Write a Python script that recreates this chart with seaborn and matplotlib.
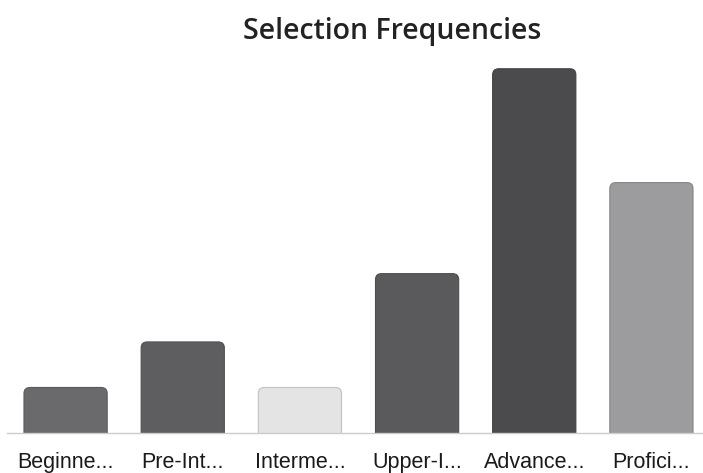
import seaborn as sns
import matplotlib.pyplot as plt
import matplotlib.colors as mcolors
import pandas as pd
from matplotlib.patches import FancyBboxPatch

# data
levels = ['Beginne...', 'Pre-Int...', 'Interme...', 'Upper-I...', 'Advance...', 'Profici...']
counts = [2, 4, 2, 7, 16, 11]
bar_colors = ['#6a6a6c', '#5e5e60', '#e4e4e4', '#5a5a5c', '#4b4b4d', '#9c9c9e']

df = pd.DataFrame({'level': levels, 'count': counts})

sns.set_style('white')
fig = plt.figure(figsize=(7.03, 4.73), dpi=100)
ax = fig.add_axes([7 / 703, 40 / 473, 703 / 703, 387 / 473])

sns.barplot(data=df, x='level', y='count', hue='level', palette=bar_colors,
            width=0.71, legend=False, ax=ax, saturation=1)

ax.set_ylim(0, 17)
ax.set_xlim(-0.5, 5.5)

# swap plain bars for rounded-top ones
ymax = 17
px_x = 703 / 6.0     # pixels per category
px_y = 387 / ymax    # pixels per unit
for p, c in zip(list(ax.patches), bar_colors):
    x, w, h = p.get_x(), p.get_width(), p.get_height()
    p.set_visible(False)
    r = 6 / px_x
    rgb = mcolors.to_rgb(c)
    edge = tuple(v * 0.85 for v in rgb)
    box = FancyBboxPatch((x, -1), w, h + 1,
                         boxstyle='round,pad=0,rounding_size=%f' % r,
                         mutation_aspect=px_x / px_y,
                         facecolor=c, edgecolor=edge, linewidth=0.8,
                         clip_on=True)
    ax.add_patch(box)

sns.despine(ax=ax, left=True)
ax.spines['bottom'].set_color('#cccccc')
ax.spines['bottom'].set_linewidth(1.0)
ax.set_yticks([])
ax.set_xlabel('')
ax.set_ylabel('')
ax.tick_params(axis='x', length=0, pad=14, labelsize=15.5, labelcolor='#1a1a1a')
for t in ax.get_xticklabels():
    t.set_fontfamily('Liberation Sans')

fig.text(392 / 703, 1 - 31 / 473, 'Selection Frequencies', ha='center', va='center',
         fontsize=20.5, fontfamily='Open Sans', fontweight='semibold', color='#222222')

fig.savefig('out.png', dpi=100)
